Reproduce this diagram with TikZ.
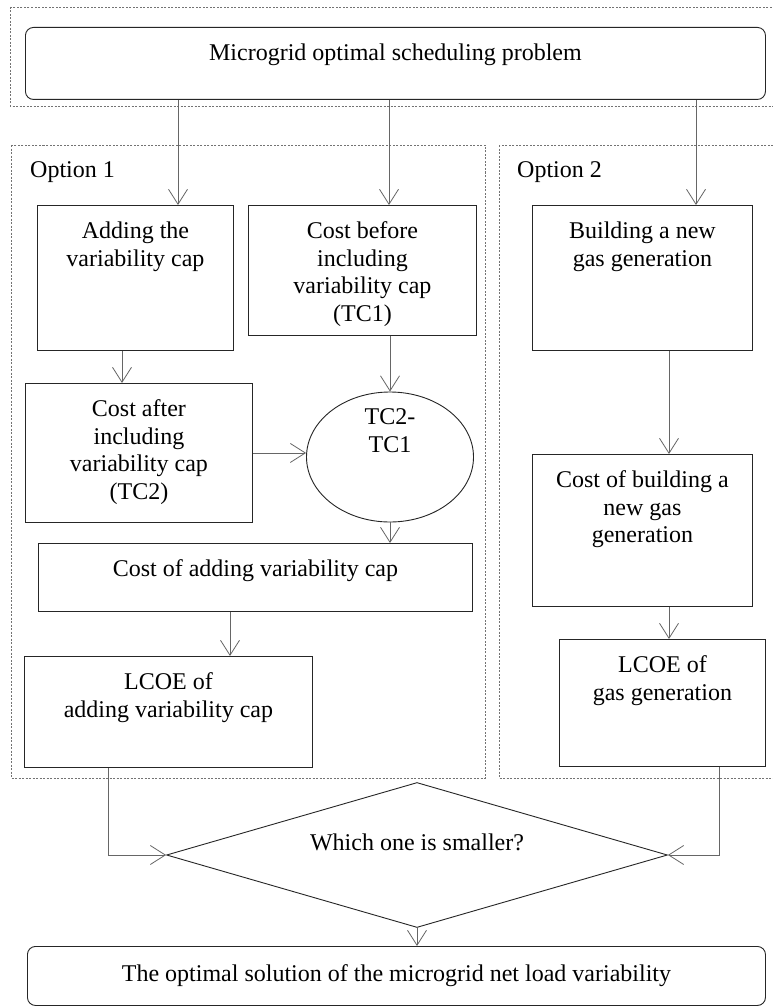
\documentclass[tikz,border=0pt]{standalone}
\usepackage{fontspec}
\setmainfont{Liberation Serif}
\usetikzlibrary{shapes.geometric,arrows.meta}

% text hangs from the top of a box of fixed size
\newcommand{\boxtext}[3]{\parbox[c][#2][t]{#1}{\centering\rule{0pt}{33pt}#3}}

\begin{document}
\begin{tikzpicture}[x=1pt,y=-1pt,
  font=\fontsize{24}{27.6}\selectfont,
  frame/.style={draw=black!55, dash pattern=on 2pt off 1.5pt, line width=0.7pt},
  stepbox/.style={draw=black!85, line width=0.9pt, inner sep=0pt, anchor=north west},
  arr/.style={draw=black!60, line width=0.8pt, -{Straight Barb[length=15pt,width=19pt]}}]
\useasboundingbox (0,0) rectangle (772,1006);
\fill[white] (0,0) rectangle (772,1006);

% dotted groups
\draw[frame] (10,7) rectangle (780,106);
\draw[frame] (11,145) rectangle (485,778);
\draw[frame] (499,145) rectangle (780,778);
\node [anchor=west, inner sep=0pt] (opt1) at (30,172) {Option 1};
\node [anchor=west, inner sep=0pt] (opt2) at (517,172) {Option 2};

\node [stepbox, rounded corners=8pt] (top) at (25,27) {\boxtext{740pt}{72pt}{Microgrid optimal scheduling problem}};

% option 1
\node [stepbox] (adding) at (37,205) {\boxtext{196pt}{145pt}{Adding the\\variability cap}};
\node [stepbox] (cbefore) at (248,205) {\boxtext{228pt}{130pt}{Cost before\\including\\variability cap\\(TC1)}};
\node [stepbox] (cafter) at (25,383) {\boxtext{227pt}{139pt}{Cost after\\including\\variability cap\\(TC2)}};
\node [draw=black!85, line width=0.9pt, ellipse, minimum width=167pt, minimum height=130pt, inner sep=0pt, align=center, text height=0pt, text depth=9pt] (diff) at (390,457) {TC2-\\TC1};
\node [stepbox] (cadd) at (38,543) {\boxtext{434pt}{68pt}{Cost of adding variability cap}};
\node [stepbox] (lcoea) at (24,656) {\boxtext{288pt}{111pt}{LCOE of\\adding variability cap}};

% option 2
\node [stepbox] (building) at (532,205) {\boxtext{220pt}{145pt}{Building a new\\gas generation}};
\node [stepbox] (cbuild) at (532,454) {\boxtext{220pt}{152pt}{Cost of building a\\new gas\\generation}};
\node [stepbox] (lcoeg) at (559,639) {\boxtext{206pt}{127pt}{LCOE of\\gas generation}};

\node [draw=black!85, line width=0.9pt, diamond, aspect=3.46, minimum width=501pt, minimum height=145pt, inner sep=0pt, text height=0pt, text depth=10pt] (which) at (417,855) {Which one is smaller?};
\node [stepbox, rounded corners=8pt, minimum width=738pt, minimum height=59pt] (sol) at (27,946) {The optimal solution of the microgrid net load variability};

% where the arrows run
\coordinate (x1) at (178,0);
\coordinate (x2) at (389,0);
\coordinate (x3) at (696,0);
\coordinate (x4) at (122,0);
\coordinate (x5) at (230,0);
\coordinate (x6) at (669,0);
\coordinate (x7) at (108,0);
\coordinate (x8) at (719,0);

\draw[arr] (top.south -| x1) -- (adding.north -| x1);
\draw[arr] (top.south -| x2) -- (cbefore.north -| x2);
\draw[arr] (top.south -| x3) -- (building.north -| x3);
\draw[arr] (adding.south -| x4) -- (cafter.north -| x4);
\draw[arr] (cbefore.south -| diff.north) -- (diff.north);
\draw[arr] (cafter.east) -- (cafter.east -| diff.west);
\draw[arr] (diff.south) -- (diff.south |- cadd.north);
\draw[arr] (cadd.south -| x5) -- (lcoea.north -| x5);
\draw[arr] (building.south -| x6) -- (cbuild.north -| x6);
\draw[arr] (cbuild.south -| x6) -- (lcoeg.north -| x6);
\draw[arr] (lcoea.south -| x7) |- (which.west);
\draw[arr] (lcoeg.south -| x8) |- (which.east);
\draw[arr] (which.south) -- (sol.north -| which.south);
\end{tikzpicture}
\end{document}
